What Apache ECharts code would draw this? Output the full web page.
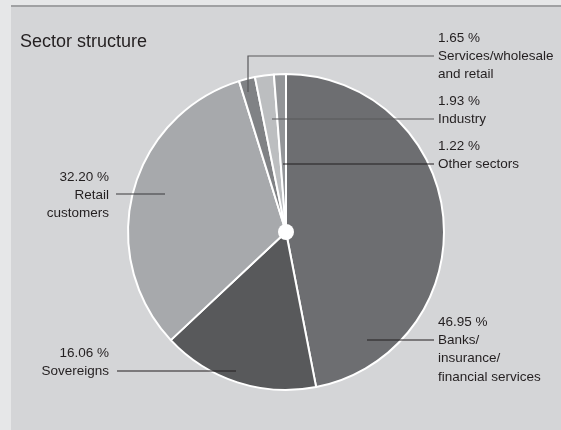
<!DOCTYPE html>
<html>
<head>
<meta charset="utf-8">
<script src="https://cdn.jsdelivr.net/npm/echarts@6/dist/echarts.min.js"></script>
<style>
html,body{margin:0;padding:0;background:#e6e7e8;}
#chart{width:561px;height:430px;}
</style>
</head>
<body>
<div id="chart"></div>
<script>
const sectors = ['Banks/\ninsurance/\nfinancial services', 'Sovereigns', 'Retail\ncustomers', 'Services/wholesale\nand retail', 'Industry', 'Other sectors'];
const shares = [46.95, 16.06, 32.20, 1.65, 1.93, 1.22];
const colors = ['#6d6e71', '#58595b', '#a7a9ac', '#808285', '#bcbec0', '#939598'];
const lineColors = ['#231f20', '#231f20', '#3a3a3c', '#58595b', '#58595b', '#231f20'];

// label placement (annotation layout, not data)
const labelLayouts = [
  {x: 438, y: 313, align: 'left',  pts: [[367, 340], [434, 340]]},
  {x: 109, y: 344, align: 'right', pts: [[236, 371], [117, 371]]},
  {x: 109, y: 168, align: 'right', pts: [[165, 194], [116, 194]]},
  {x: 438, y: 29,  align: 'left',  pts: [[248, 92], [248, 56], [434, 56]]},
  {x: 438, y: 92,  align: 'left',  pts: [[272, 119], [434, 119]]},
  {x: 438, y: 137, align: 'left',  pts: [[283, 164], [434, 164]]}
];

const FONT = '"Liberation Sans", Arial, sans-serif';
const chart = echarts.init(document.getElementById('chart'));
chart.setOption({
  backgroundColor: '#e6e7e8',
  animation: false,
  title: {
    text: 'Sector structure',
    left: 20, top: 33, padding: 0,
    textStyle: {fontFamily: FONT, fontSize: 18, lineHeight: 18, fontWeight: 'normal', color: '#231f20'}
  },
  graphic: [
    {type: 'rect', shape: {x: 11, y: 6, width: 550, height: 424}, style: {fill: '#d4d5d7'}, z: -10},
    {type: 'line', shape: {x1: 11, y1: 6, x2: 561, y2: 6}, style: {stroke: '#a0a1a3', lineWidth: 2}, z: -9}
  ].concat(labelLayouts.map((l, i) => ({
    type: 'polyline',
    shape: {points: l.pts},
    style: {stroke: lineColors[i], lineWidth: 1.2, fill: null},
    z: 100
  }))),
  series: [
    {
      type: 'pie',
      center: [286, 232],
      radius: [0, 158],
      startAngle: 90,
      clockwise: true,
      avoidLabelOverlap: false,
      silent: true,
      itemStyle: {borderColor: '#ffffff', borderWidth: 2},
      label: {
        show: true,
        position: 'outer',
        overflow: 'none',
        fontFamily: FONT,
        fontSize: 13.5,
        lineHeight: 18.3,
        color: '#231f20',
        formatter: p => p.value.toFixed(2) + ' %\n' + p.name
      },
      labelLine: {show: false},
      labelLayout: function (params) {
        const l = labelLayouts[params.dataIndex];
        return {x: l.x, y: l.y, align: l.align, verticalAlign: 'top'};
      },
      data: sectors.map((s, i) => ({
        name: s,
        value: shares[i],
        itemStyle: {color: colors[i]}
      }))
    },
    {
      type: 'pie',
      center: [286, 232],
      radius: [0, 8],
      silent: true,
      z: 5,
      label: {show: false},
      labelLine: {show: false},
      itemStyle: {color: '#ffffff'},
      data: [{value: 1, name: 'hub'}]
    }
  ]
});
</script>
</body>
</html>
